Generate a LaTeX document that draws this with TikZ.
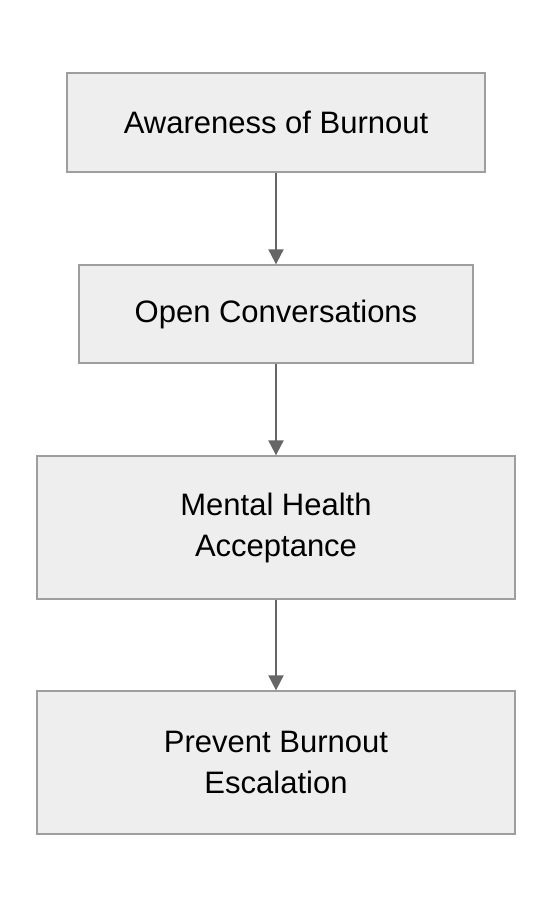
\documentclass[tikz,border=0pt]{standalone}
\usepackage{fontspec}
\setmainfont{Liberation Sans}
\usepackage{tikz}
\usepackage{xcolor}
\usetikzlibrary{arrows.meta}
\definecolor{boxfill}{HTML}{EEEEEE}
\definecolor{boxline}{HTML}{9E9E9E}
\definecolor{arrowgrey}{HTML}{666666}

\begin{document}
\begin{tikzpicture}[x=1pt,y=-1pt,
                    stage/.style={draw=boxline,fill=boxfill,line width=1.3pt,align=center,inner sep=0pt,
                                  font=\fontsize{31}{41}\selectfont},
                    flow/.style={draw=arrowgrey,line width=2pt,-{Triangle[length=15pt,width=15pt]}}]
                    \useasboundingbox (0,0) rectangle (552,908);
                    \node[stage,minimum width=418pt,minimum height=99pt] (aware) at (276,122.5){Awareness of Burnout};
                    \node[stage,minimum width=394pt,minimum height=98pt] (talk) at (276,314){Open Conversations};
                    \node[stage,minimum width=478pt,minimum height=143pt] (accept) at (276,527.5){Mental Health\\Acceptance};
                    \node[stage,minimum width=478pt,minimum height=143pt] (prevent) at (276,762.5){Prevent Burnout\\Escalation};

                    \draw[flow] (aware) -- (talk);
                    \draw[flow] (talk) -- (accept);
                    \draw[flow] (accept) -- (prevent);
                \end{tikzpicture}
\end{document}
